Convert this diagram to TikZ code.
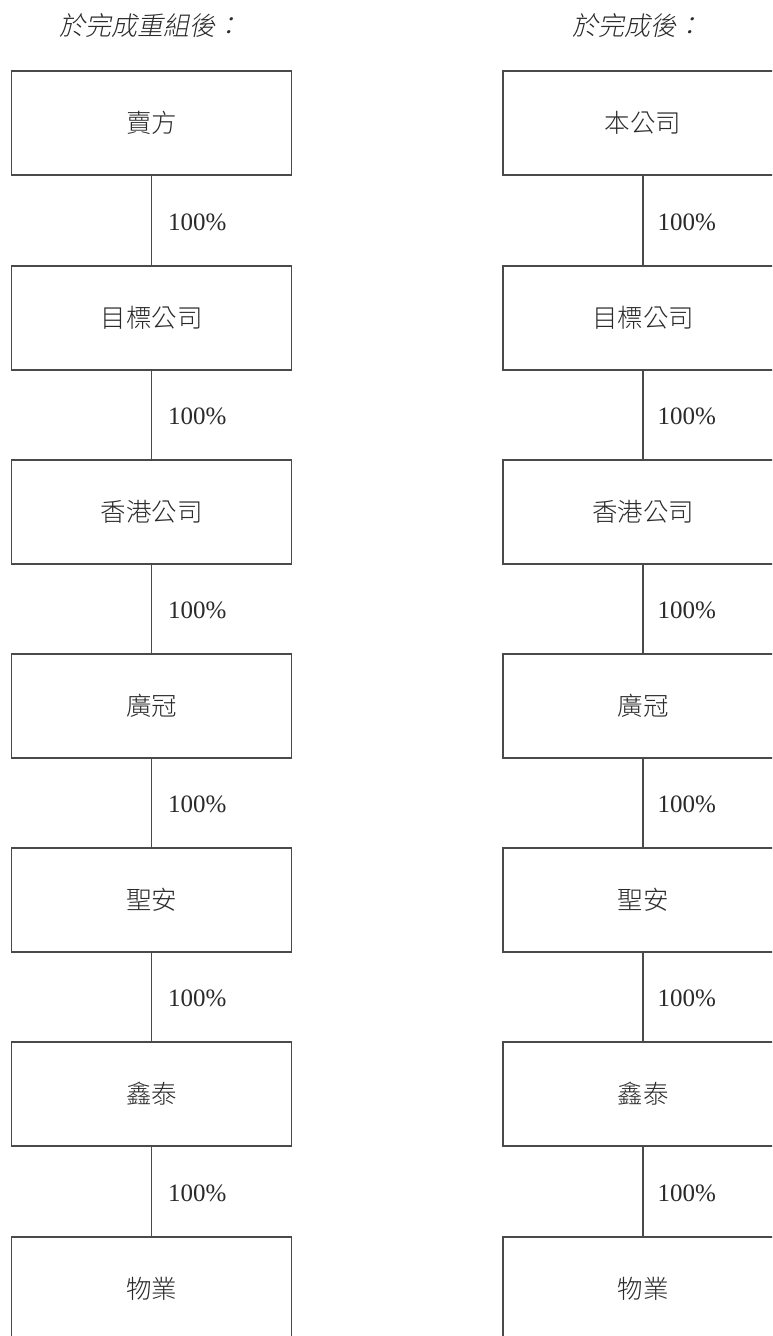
\documentclass[tikz,border=0pt]{standalone}
\usepackage{fontspec}
\setmainfont{Liberation Serif}
\newfontfamily\cjk{Noto Sans CJK TC Light}
\newfontfamily\cjkit[FakeSlant=0.2]{Noto Sans CJK TC Light}
\definecolor{ln}{HTML}{4A4A4A}
\definecolor{tx}{HTML}{2A2A2A}
\tikzset{
  box/.style={draw=ln, line width=1.1pt, rectangle, minimum height=104pt, inner sep=0pt, font=\cjk\fontsize{25.5}{28}\selectfont, text=tx},
  lbox/.style={box, minimum width=279.5pt},
  rbox/.style={box, minimum width=280pt},
  link/.style={draw=ln, line width=1.1pt},
  pct/.style={font=\fontsize{25}{28}\selectfont, text=tx, anchor=west, inner sep=0pt},
  ttl/.style={font=\cjkit\fontsize{26}{29}\selectfont, text=tx}
}
\begin{document}
\begin{tikzpicture}[x=1pt,y=-1pt]
\clip (0,0) rectangle (772,1336);
\fill[white] (0,0) rectangle (772,1336);
\node[ttl] (tl) at (150,26) {於完成重組後：};
\node[ttl] (tr) at (637,26) {於完成後：};
\foreach \i/\y/\lt/\rt in {1/123/賣方/本公司, 2/318/目標公司/目標公司, 3/512/香港公司/香港公司, 4/706/廣冠/廣冠, 5/900/聖安/聖安, 6/1094/鑫泰/鑫泰, 7/1289/物業/物業}{
  \node[lbox] (L\i) at (151.5,\y) {\lt};
  \node[rbox] (R\i) at (643,\y) {\rt};
}
\foreach \a/\b in {1/2,2/3,3/4,4/5,5/6,6/7}{
  \draw[link] (L\a.south) -- node[pct, midway, xshift=16pt, yshift=-1.5pt] {100\%} (L\b.north);
  \draw[link] (R\a.south) -- node[pct, midway, xshift=14pt, yshift=-1.5pt] {100\%} (R\b.north);
}
\end{tikzpicture}
\end{document}
